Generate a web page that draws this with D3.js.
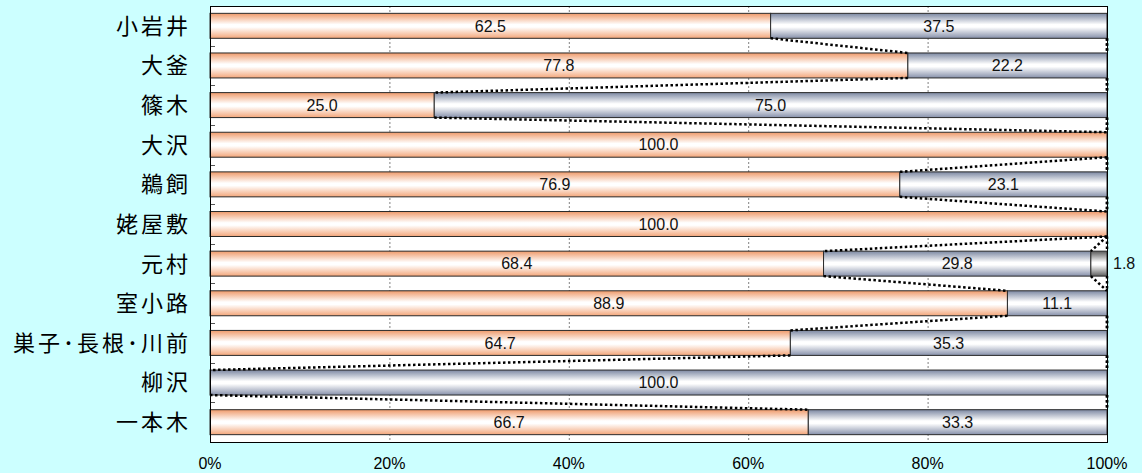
<!DOCTYPE html>
<html>
<head>
<meta charset="utf-8">
<script src="https://cdn.jsdelivr.net/npm/d3@7"></script>
<style>
  html, body { margin: 0; padding: 0; background: #ccffff; }
  svg { display: block; }
</style>
</head>
<body>
<svg id="chart"></svg>
<script>
const categories = ["小岩井", "大釜", "篠木", "大沢", "鵜飼", "姥屋敷", "元村", "室小路", "巣子･長根･川前", "柳沢", "一本木"];
const series1 = [62.5, 77.8, 25.0, 100.0, 76.9, 100.0, 68.4, 88.9, 64.7, 0, 66.7];
const series2 = [37.5, 22.2, 75.0, 0, 23.1, 0, 29.8, 11.1, 35.3, 100.0, 33.3];
const series3 = [0, 0, 0, 0, 0, 0, 1.8, 0, 0, 0, 0];
const tickValues = [0, 20, 40, 60, 80, 100];

const width = 1142;
const height = 473;
const margin = { top: 6, right: 35, bottom: 31, left: 210 };

const svg = d3.select("#chart").attr("width", width).attr("height", height);

const defs = svg.append("defs");
function gradient(id, edgeTop, edgeBottom) {
  const g = defs.append("linearGradient")
    .attr("id", id).attr("x1", 0).attr("y1", 0).attr("x2", 0).attr("y2", 1);
  g.append("stop").attr("offset", "0%").attr("stop-color", edgeTop);
  g.append("stop").attr("offset", "45%").attr("stop-color", "#ffffff");
  g.append("stop").attr("offset", "55%").attr("stop-color", "#ffffff");
  g.append("stop").attr("offset", "100%").attr("stop-color", edgeBottom);
}
gradient("g1", "#ef9a6a", "#f3a67a");
gradient("g2", "#7c88a2", "#8690aa");
gradient("g3", "#5a5a5a", "#5e5e5e");

const x = d3.scaleLinear().domain([0, 100]).range([margin.left, width - margin.right]);
const y = d3.scaleBand().domain(categories)
  .range([margin.top, height - margin.bottom])
  .paddingInner(0.37).paddingOuter(0.185);

// plot area
svg.append("rect")
  .attr("x", x(0)).attr("y", margin.top)
  .attr("width", x(100) - x(0)).attr("height", height - margin.bottom - margin.top)
  .attr("fill", "#ffffff");

// gridlines
svg.append("g")
  .selectAll("line")
  .data(tickValues.slice(1, -1))
  .join("line")
  .attr("x1", (d) => x(d) + 0.5).attr("x2", (d) => x(d) + 0.5)
  .attr("y1", margin.top).attr("y2", height - margin.bottom)
  .attr("stroke", "#808080").attr("stroke-dasharray", "2,2");

// category boundary ticks
const step = y.step();
svg.append("g")
  .selectAll("line")
  .data(d3.range(1, categories.length))
  .join("line")
  .attr("x1", x(0)).attr("x2", x(0) + 5)
  .attr("y1", (d) => Math.round(margin.top + d * step) + 0.5)
  .attr("y2", (d) => Math.round(margin.top + d * step) + 0.5)
  .attr("stroke", "#555");

// stacked data
const rows = categories.map((c, i) => ({ cat: c, s: [series1[i], series2[i], series3[i]] }));
const segs = [];
rows.forEach((r) => {
  let acc = 0;
  r.s.forEach((v, k) => {
    segs.push({ cat: r.cat, k: k, x0: acc, x1: acc + v, v: v });
    acc += v;
  });
});

svg.append("g")
  .selectAll("rect")
  .data(segs.filter((d) => d.v > 0))
  .join("rect")
  .attr("x", (d) => x(d.x0))
  .attr("y", (d) => y(d.cat))
  .attr("width", (d) => x(d.x1) - x(d.x0))
  .attr("height", y.bandwidth())
  .attr("fill", (d) => `url(#g${d.k + 1})`)
  .attr("stroke", "#2a2a2a")
  .attr("stroke-width", 1);

// series lines
const lines = [];
for (let k = 0; k < 3; k++) {
  for (let i = 0; i < rows.length - 1; i++) {
    const a = d3.sum(rows[i].s.slice(0, k + 1));
    const b = d3.sum(rows[i + 1].s.slice(0, k + 1));
    lines.push({ a, b, c0: rows[i].cat, c1: rows[i + 1].cat });
  }
}
svg.append("g")
  .selectAll("line")
  .data(lines)
  .join("line")
  .attr("x1", (d) => x(d.a)).attr("x2", (d) => x(d.b))
  .attr("y1", (d) => y(d.c0) + y.bandwidth())
  .attr("y2", (d) => y(d.c1))
  .attr("stroke", "#000")
  .attr("stroke-width", 2.5)
  .attr("stroke-dasharray", "2.5,2.5");

// border
svg.append("rect")
  .attr("x", x(0) + 0.5).attr("y", margin.top + 0.5)
  .attr("width", x(100) - x(0)).attr("height", height - margin.bottom - margin.top)
  .attr("fill", "none").attr("stroke", "#000");

// data labels
svg.append("g")
  .selectAll("text")
  .data(segs.filter((d) => d.v > 0))
  .join("text")
  .attr("x", (d) => (d.k === 2 ? x(100) + 6 : (x(d.x0) + x(d.x1)) / 2))
  .attr("y", (d) => y(d.cat) + y.bandwidth() / 2)
  .attr("dy", "0.36em")
  .attr("text-anchor", (d) => (d.k === 2 ? "start" : "middle"))
  .style("font-family", "'Liberation Sans', Arial, sans-serif")
  .style("font-size", "16px")
  .attr("fill", "#111")
  .text((d) => d.v.toFixed(1));

// category labels
svg.append("g")
  .selectAll("text")
  .data(categories)
  .join("text")
  .attr("x", 191)
  .attr("y", (d) => y(d) + y.bandwidth() / 2)
  .attr("dy", "0.36em")
  .attr("text-anchor", "end")
  .style("font-family", "'Noto Sans CJK JP', sans-serif")
  .style("font-size", "22px")
  .style("letter-spacing", "3px")
  .attr("fill", "#000")
  .text((d) => d);

// x axis labels
svg.append("g")
  .selectAll("text")
  .data(tickValues)
  .join("text")
  .attr("x", (d) => x(d))
  .attr("y", 463)
  .attr("dy", "0.36em")
  .attr("text-anchor", "middle")
  .style("font-family", "'Liberation Sans', Arial, sans-serif")
  .style("font-size", "16px")
  .attr("fill", "#000")
  .text((d) => d + "%");
</script>
</body>
</html>
